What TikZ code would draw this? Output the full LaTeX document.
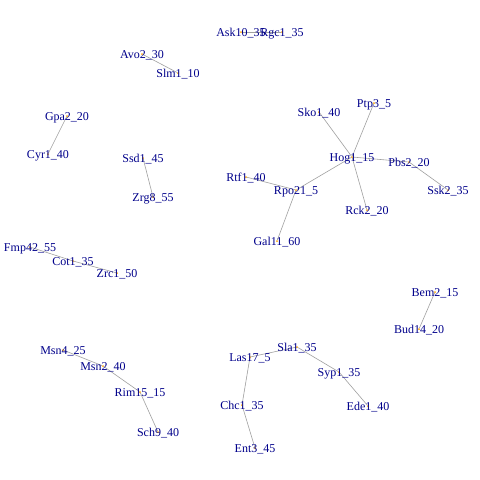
\documentclass[tikz,border=0pt]{standalone}
\usepackage{fontspec}
\setmainfont{Liberation Serif}
\definecolor{labelblue}{RGB}{0,0,139}
\definecolor{edgegray}{RGB}{160,160,160}
\definecolor{dotorange}{RGB}{255,165,0}
\begin{document}
\begin{tikzpicture}[
    x = 1pt,
    y = -1pt,
    protein/.style = {circle, fill=dotorange, minimum size=2pt,
              inner sep=0pt, outer sep=0pt},
    protlabel/.style = {text=labelblue, inner sep=0pt, yshift=-1.5pt,
              font=\fontsize{12}{14}\selectfont},
    link/.style = {edgegray, line width=0.6pt},
    ]
\useasboundingbox[fill=white] (0,0) rectangle (480,480);

\node[protein] (ask10) at (241,32){};
\node[protein] (rgc1) at (282,32){};
\node[protein] (avo2) at (142,54){};
\node[protein] (slm1) at (178,73){};
\node[protein] (gpa2) at (67,116){};
\node[protein] (cyr1) at (48,154){};
\node[protein] (ssd1) at (143,158){};
\node[protein] (zrg8) at (153,197){};
\node[protein] (sko1) at (319,112){};
\node[protein] (ptp3) at (374,103){};
\node[protein] (hog1) at (352,157){};
\node[protein] (pbs2) at (409,162){};
\node[protein] (ssk2) at (448,190){};
\node[protein] (rck2) at (367,210){};
\node[protein] (rtf1) at (246,177){};
\node[protein] (rpo21) at (296,190){};
\node[protein] (gal11) at (277,241){};
\node[protein] (fmp42) at (30,247){};
\node[protein] (cot1) at (73,261){};
\node[protein] (zrc1) at (117,273){};
\node[protein] (msn4) at (63,350){};
\node[protein] (msn2) at (103,366){};
\node[protein] (rim15) at (140,392){};
\node[protein] (sch9) at (158,432){};
\node[protein] (las17) at (250,357){};
\node[protein] (sla1) at (297,347){};
\node[protein] (syp1) at (339,372){};
\node[protein] (ede1) at (368,406){};
\node[protein] (chc1) at (242,405){};
\node[protein] (ent3) at (255,448){};
\node[protein] (bem2) at (435,292){};
\node[protein] (bud14) at (419,329){};

\draw [link] (ask10) -- (rgc1);
\draw [link] (avo2) -- (slm1);
\draw [link] (gpa2) -- (cyr1);
\draw [link] (ssd1) -- (zrg8);
\draw [link] (sko1) -- (hog1);
\draw [link] (ptp3) -- (hog1);
\draw [link] (hog1) -- (pbs2);
\draw [link] (pbs2) -- (ssk2);
\draw [link] (hog1) -- (rck2);
\draw [link] (hog1) -- (rpo21);
\draw [link] (rtf1) -- (rpo21);
\draw [link] (rpo21) -- (gal11);
\draw [link] (fmp42) -- (cot1);
\draw [link] (cot1) -- (zrc1);
\draw [link] (msn4) -- (msn2);
\draw [link] (msn2) -- (rim15);
\draw [link] (rim15) -- (sch9);
\draw [link] (las17) -- (sla1);
\draw [link] (sla1) -- (syp1);
\draw [link] (syp1) -- (ede1);
\draw [link] (las17) -- (chc1);
\draw [link] (chc1) -- (ent3);
\draw [link] (bem2) -- (bud14);

\node [protlabel] (ask10_label) at (ask10){Ask10\_35};
\node [protlabel] (rgc1_label) at (rgc1){Rgc1\_35};
\node [protlabel] (avo2_label) at (avo2){Avo2\_30};
\node [protlabel] (slm1_label) at (slm1){Slm1\_10};
\node [protlabel] (gpa2_label) at (gpa2){Gpa2\_20};
\node [protlabel] (cyr1_label) at (cyr1){Cyr1\_40};
\node [protlabel] (ssd1_label) at (ssd1){Ssd1\_45};
\node [protlabel] (zrg8_label) at (zrg8){Zrg8\_55};
\node [protlabel] (sko1_label) at (sko1){Sko1\_40};
\node [protlabel] (ptp3_label) at (ptp3){Ptp3\_5};
\node [protlabel] (hog1_label) at (hog1){Hog1\_15};
\node [protlabel] (pbs2_label) at (pbs2){Pbs2\_20};
\node [protlabel] (ssk2_label) at (ssk2){Ssk2\_35};
\node [protlabel] (rck2_label) at (rck2){Rck2\_20};
\node [protlabel] (rtf1_label) at (rtf1){Rtf1\_40};
\node [protlabel] (rpo21_label) at (rpo21){Rpo21\_5};
\node [protlabel] (gal11_label) at (gal11){Gal11\_60};
\node [protlabel] (fmp42_label) at (fmp42){Fmp42\_55};
\node [protlabel] (cot1_label) at (cot1){Cot1\_35};
\node [protlabel] (zrc1_label) at (zrc1){Zrc1\_50};
\node [protlabel] (msn4_label) at (msn4){Msn4\_25};
\node [protlabel] (msn2_label) at (msn2){Msn2\_40};
\node [protlabel] (rim15_label) at (rim15){Rim15\_15};
\node [protlabel] (sch9_label) at (sch9){Sch9\_40};
\node [protlabel] (las17_label) at (las17){Las17\_5};
\node [protlabel] (sla1_label) at (sla1){Sla1\_35};
\node [protlabel] (syp1_label) at (syp1){Syp1\_35};
\node [protlabel] (ede1_label) at (ede1){Ede1\_40};
\node [protlabel] (chc1_label) at (chc1){Chc1\_35};
\node [protlabel] (ent3_label) at (ent3){Ent3\_45};
\node [protlabel] (bem2_label) at (bem2){Bem2\_15};
\node [protlabel] (bud14_label) at (bud14){Bud14\_20};

\end{tikzpicture}
\end{document}
